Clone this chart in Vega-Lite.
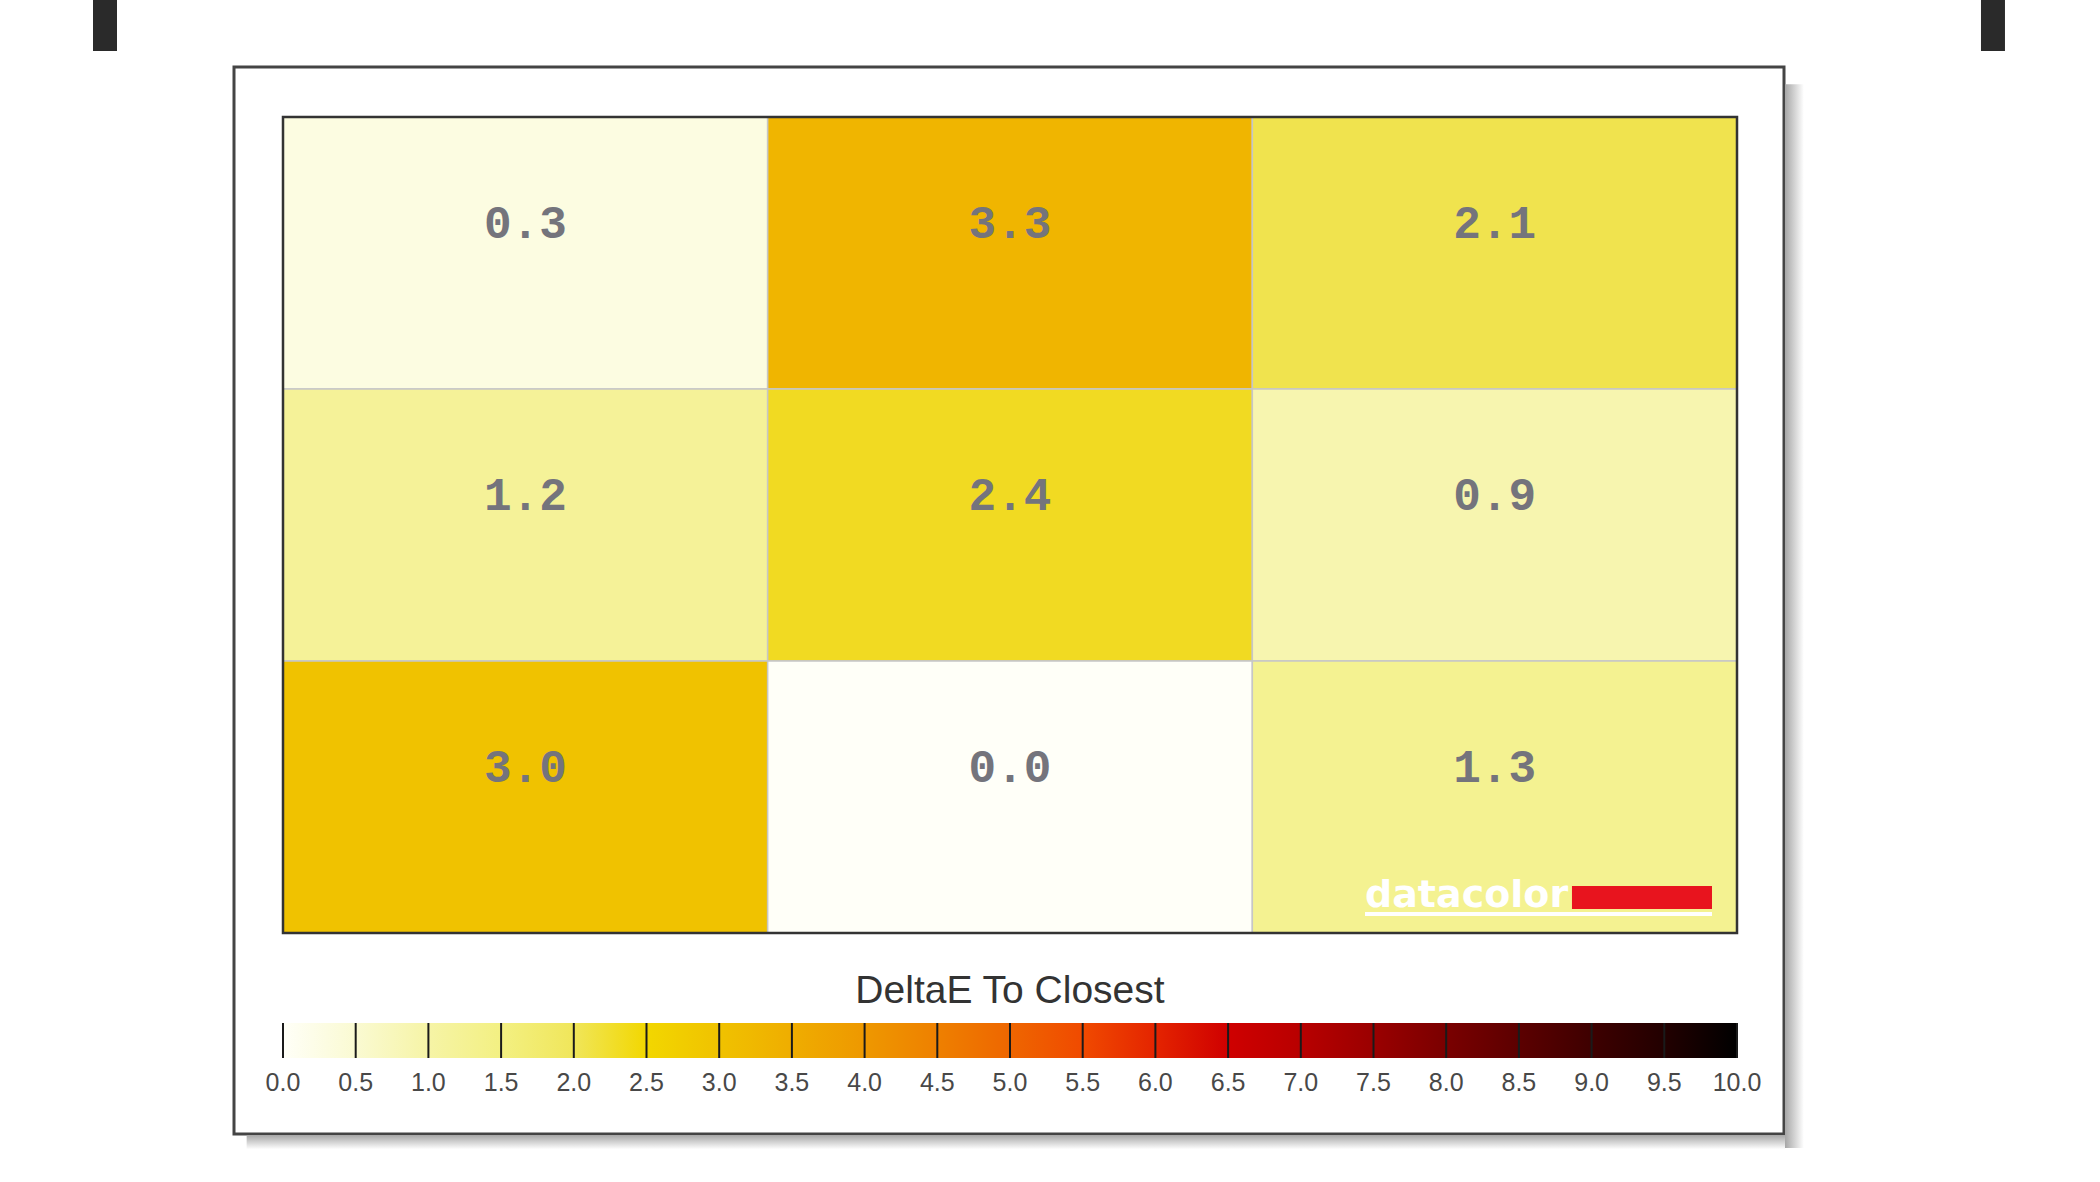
{
  "$schema": "https://vega.github.io/schema/vega-lite/v6.json",
  "width": 1550,
  "height": 1067,
  "autosize": {"type": "none"},
  "padding": {"left": 234, "top": 67, "right": 316, "bottom": 48},
  "background": "white",
  "config": {"view": {"stroke": "#444444", "strokeWidth": 3}},
  "datasets": {
    "cells": [
      {"row": 1, "col": 1, "value": 0.3},
      {"row": 1, "col": 2, "value": 3.3},
      {"row": 1, "col": 3, "value": 2.1},
      {"row": 2, "col": 1, "value": 1.2},
      {"row": 2, "col": 2, "value": 2.4},
      {"row": 2, "col": 3, "value": 0.9},
      {"row": 3, "col": 1, "value": 3.0},
      {"row": 3, "col": 2, "value": 0.0},
      {"row": 3, "col": 3, "value": 1.3}
    ],
    "ticks": [
      {"v": 0}, {"v": 0.5}, {"v": 1}, {"v": 1.5}, {"v": 2}, {"v": 2.5}, {"v": 3},
      {"v": 3.5}, {"v": 4}, {"v": 4.5}, {"v": 5}, {"v": 5.5}, {"v": 6}, {"v": 6.5},
      {"v": 7}, {"v": 7.5}, {"v": 8}, {"v": 8.5}, {"v": 9}, {"v": 9.5}, {"v": 10}
    ],
    "one": [{}]
  },
  "layer": [
    {
      "data": {"name": "cells"},
      "encoding": {
        "x": {"field": "col", "type": "ordinal", "axis": null,
              "scale": {"type": "band", "paddingInner": 0, "paddingOuter": 0.099037, "align": 0.5104, "round": false}},
        "y": {"field": "row", "type": "ordinal", "axis": null,
              "scale": {"type": "band", "paddingInner": 0, "paddingOuter": 0.461397, "align": 0.199203, "round": false}}
      },
      "layer": [
        {
          "mark": {"type": "rect", "stroke": "#c6c6c6", "strokeWidth": 1.5},
          "encoding": {
            "color": {"field": "value", "type": "quantitative", "legend": null,
              "scale": {
                "domain": [0, 0.5, 1, 1.5, 2, 2.5, 3, 3.5, 4, 4.5, 5, 5.5, 6, 6.5, 7, 7.5, 8, 8.5, 9, 9.5, 10],
                "range": ["#fffff8", "#fafad2", "#f6f4a6", "#f3f082", "#f0e65a", "#f2d700", "#f0c200", "#efad00", "#ee9800", "#ee8000", "#ee6600", "#f04a00", "#e42400", "#cf0000", "#b80000", "#9a0000", "#7a0000", "#5c0000", "#3e0000", "#220000", "#000000"]
              }}
          }
        },
        {
          "mark": {"type": "text", "font": "Liberation Mono", "fontSize": 46, "fontWeight": "bold", "fill": "#74747c", "dy": -29, "baseline": "middle", "align": "center"},
          "encoding": {"text": {"field": "value", "type": "quantitative", "format": ".1f"}}
        }
      ]
    },
    {
      "layer": [
        {
          "data": {"name": "one"},
          "mark": {"type": "rect", "fill": {"gradient": "linear", "x1": 0, "y1": 0, "x2": 1, "y2": 0, "stops": [{"offset": 0, "color": "#a6a6a6"}, {"offset": 1, "color": "#ffffff"}]}},
          "encoding": {
            "x": {"datum": 10.33, "type": "quantitative", "axis": null, "scale": {"domain": [-0.337, 10.32325], "nice": false, "zero": false}},
            "x2": {"datum": 10.46},
            "y": {"datum": -0.12, "type": "quantitative", "axis": null, "scale": {"domain": [-0.18382, 3.73897], "reverse": true, "nice": false, "zero": false}},
            "y2": {"datum": 3.79}
          }
        },
        {
          "data": {"name": "one"},
          "mark": {"type": "rect", "fill": {"gradient": "linear", "x1": 0, "y1": 0, "x2": 0, "y2": 1, "stops": [{"offset": 0, "color": "#a6a6a6"}, {"offset": 1, "color": "#ffffff"}]}},
          "encoding": {
            "x": {"datum": -0.25, "type": "quantitative", "axis": null, "scale": {"domain": [-0.337, 10.32325], "nice": false, "zero": false}},
            "x2": {"datum": 10.33},
            "y": {"datum": 3.7425, "type": "quantitative", "axis": null, "scale": {"domain": [-0.18382, 3.73897], "reverse": true, "nice": false, "zero": false}},
            "y2": {"datum": 3.795}
          }
        },
        {
          "data": {"name": "one"},
          "mark": {"type": "rect", "fill": "#2a2a2a"},
          "encoding": {
            "x": {"datum": -1.3067, "type": "quantitative", "axis": null, "scale": {"domain": [-0.337, 10.32325], "nice": false, "zero": false}},
            "x2": {"datum": -1.1417},
            "y": {"datum": -0.4301, "type": "quantitative", "axis": null, "scale": {"domain": [-0.18382, 3.73897], "reverse": true, "nice": false, "zero": false}},
            "y2": {"datum": -0.2426}
          }
        },
        {
          "data": {"name": "one"},
          "mark": {"type": "rect", "fill": "#2a2a2a"},
          "encoding": {
            "x": {"datum": 11.678, "type": "quantitative", "axis": null, "scale": {"domain": [-0.337, 10.32325], "nice": false, "zero": false}},
            "x2": {"datum": 11.843},
            "y": {"datum": -0.4301, "type": "quantitative", "axis": null, "scale": {"domain": [-0.18382, 3.73897], "reverse": true, "nice": false, "zero": false}},
            "y2": {"datum": -0.2426}
          }
        },
        {
          "data": {"name": "one"},
          "mark": {"type": "rect", "fill": "none", "stroke": "#333333", "strokeWidth": 2.5},
          "encoding": {
            "x": {"datum": 0, "type": "quantitative", "axis": null, "scale": {"domain": [-0.337, 10.32325], "nice": false, "zero": false}},
            "x2": {"datum": 10},
            "y": {"datum": 0, "type": "quantitative", "axis": null, "scale": {"domain": [-0.18382, 3.73897], "reverse": true, "nice": false, "zero": false}},
            "y2": {"datum": 3}
          }
        },
        {
          "data": {"name": "one"},
          "mark": {"type": "rect", "fill": "#ffffff"},
          "encoding": {
            "x": {"datum": 7.4415, "type": "quantitative", "axis": null, "scale": {"domain": [-0.337, 10.32325], "nice": false, "zero": false}},
            "x2": {"datum": 9.828},
            "y": {"datum": 2.9228, "type": "quantitative", "axis": null, "scale": {"domain": [-0.18382, 3.73897], "reverse": true, "nice": false, "zero": false}},
            "y2": {"datum": 2.9375}
          }
        },
        {
          "data": {"name": "one"},
          "mark": {"type": "rect", "fill": "#e8141e"},
          "encoding": {
            "x": {"datum": 8.865, "type": "quantitative", "axis": null, "scale": {"domain": [-0.337, 10.32325], "nice": false, "zero": false}},
            "x2": {"datum": 9.828},
            "y": {"datum": 2.8272, "type": "quantitative", "axis": null, "scale": {"domain": [-0.18382, 3.73897], "reverse": true, "nice": false, "zero": false}},
            "y2": {"datum": 2.9118}
          }
        },
        {
          "data": {"name": "one"},
          "mark": {"type": "text", "text": "datacolor", "font": "DejaVu Sans", "fontSize": 38, "fontWeight": "bold", "fill": "#ffffff", "align": "left", "baseline": "alphabetic"},
          "encoding": {
            "x": {"datum": 7.4415, "type": "quantitative", "axis": null, "scale": {"domain": [-0.337, 10.32325], "nice": false, "zero": false}},
            "y": {"datum": 2.9044, "type": "quantitative", "axis": null, "scale": {"domain": [-0.18382, 3.73897], "reverse": true, "nice": false, "zero": false}}
          }
        },
        {
          "data": {"name": "one"},
          "mark": {"type": "rect", "fill": {"gradient": "linear", "x1": 0, "y1": 0, "x2": 1, "y2": 0, "stops": [
            {"offset": 0, "color": "#fffff8"}, {"offset": 0.05, "color": "#fafad2"}, {"offset": 0.1, "color": "#f6f4a6"},
            {"offset": 0.15, "color": "#f3f082"}, {"offset": 0.2, "color": "#f0e65a"}, {"offset": 0.25, "color": "#f2d700"},
            {"offset": 0.3, "color": "#f0c200"}, {"offset": 0.35, "color": "#efad00"}, {"offset": 0.4, "color": "#ee9800"},
            {"offset": 0.45, "color": "#ee8000"}, {"offset": 0.5, "color": "#ee6600"}, {"offset": 0.55, "color": "#f04a00"},
            {"offset": 0.6, "color": "#e42400"}, {"offset": 0.65, "color": "#cf0000"}, {"offset": 0.7, "color": "#b80000"},
            {"offset": 0.75, "color": "#9a0000"}, {"offset": 0.8, "color": "#7a0000"}, {"offset": 0.85, "color": "#5c0000"},
            {"offset": 0.9, "color": "#3e0000"}, {"offset": 0.95, "color": "#220000"}, {"offset": 1, "color": "#000000"}]}},
          "encoding": {
            "x": {"datum": 0, "type": "quantitative", "axis": null, "scale": {"domain": [-0.337, 10.32325], "nice": false, "zero": false}},
            "x2": {"datum": 10},
            "y": {"datum": 3.3309, "type": "quantitative", "axis": null, "scale": {"domain": [-0.18382, 3.73897], "reverse": true, "nice": false, "zero": false}},
            "y2": {"datum": 3.4596}
          }
        },
        {
          "data": {"name": "ticks"},
          "mark": {"type": "rule", "stroke": "#1a1a1a", "strokeWidth": 2},
          "encoding": {
            "x": {"field": "v", "type": "quantitative", "axis": null, "scale": {"domain": [-0.337, 10.32325], "nice": false, "zero": false}},
            "y": {"datum": 3.3309, "type": "quantitative", "axis": null, "scale": {"domain": [-0.18382, 3.73897], "reverse": true, "nice": false, "zero": false}},
            "y2": {"datum": 3.4596}
          }
        },
        {
          "data": {"name": "ticks"},
          "mark": {"type": "text", "font": "Liberation Sans", "fontSize": 25, "fill": "#484848", "align": "center", "baseline": "middle"},
          "encoding": {
            "x": {"field": "v", "type": "quantitative", "axis": null, "scale": {"domain": [-0.337, 10.32325], "nice": false, "zero": false}},
            "y": {"datum": 3.5515, "type": "quantitative", "axis": null, "scale": {"domain": [-0.18382, 3.73897], "reverse": true, "nice": false, "zero": false}},
            "text": {"field": "v", "type": "quantitative", "format": ".1f"}
          }
        },
        {
          "data": {"name": "one"},
          "mark": {"type": "text", "text": "DeltaE To Closest", "font": "Liberation Sans", "fontSize": 39, "fill": "#333333", "align": "center", "baseline": "middle"},
          "encoding": {
            "x": {"datum": 5, "type": "quantitative", "axis": null, "scale": {"domain": [-0.337, 10.32325], "nice": false, "zero": false}},
            "y": {"datum": 3.2132, "type": "quantitative", "axis": null, "scale": {"domain": [-0.18382, 3.73897], "reverse": true, "nice": false, "zero": false}}
          }
        }
      ]
    }
  ],
  "resolve": {"scale": {"x": "independent", "y": "independent", "color": "independent"}}
}
